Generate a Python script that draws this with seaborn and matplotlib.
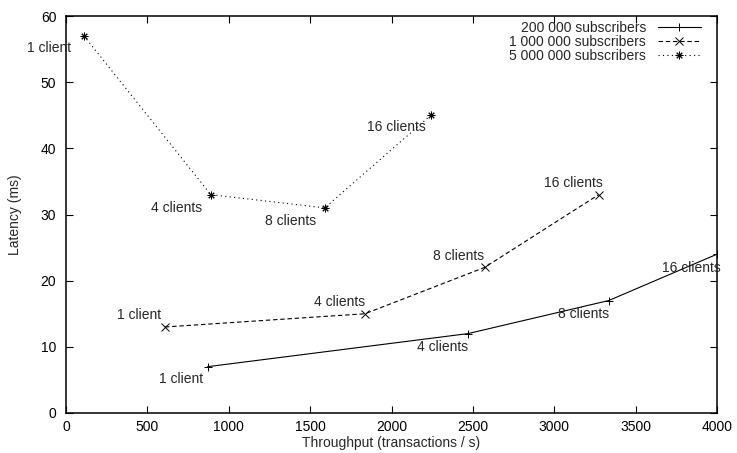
import pandas as pd
import numpy as np
import matplotlib
matplotlib.use('Agg')
import matplotlib.pyplot as plt
import seaborn as sns

# ---------- data ----------
series_names = ['200 000 subscribers', '1 000 000 subscribers', '5 000 000 subscribers']
clients = ['1 client', '4 clients', '8 clients', '16 clients']

thr_200k = [870, 2470, 3335, 4000]
lat_200k = [7, 12, 17, 24]
thr_1m = [608, 1837, 2572, 3273]
lat_1m = [13, 15, 22, 33]
thr_5m = [110, 890, 1590, 2242]
lat_5m = [57, 33, 31, 45]

x_ticks = [0, 500, 1000, 1500, 2000, 2500, 3000, 3500, 4000]
y_ticks = [0, 10, 20, 30, 40, 50, 60]

df = pd.DataFrame({
    'throughput': thr_200k + thr_1m + thr_5m,
    'latency': lat_200k + lat_1m + lat_5m,
    'series': [series_names[0]] * 4 + [series_names[1]] * 4 + [series_names[2]] * 4,
    'clients': clients * 3,
})

# label offsets (pixels: right end of text / vertical centre, relative to the point)
label_offsets = {
    series_names[0]: [(-4, -12), (0, -13), (0, -13), (4, -14)],
    series_names[1]: [(-4, 12), (0, 12), (0, 11), (4, 12)],
    series_names[2]: [(-13, -12), (-9, -13), (-9, -13), (-5, -12)],
}

sns.set_style('ticks')
plt.rcParams['font.family'] = ['Liberation Sans', 'DejaVu Sans']
plt.rcParams['font.size'] = 10

fig = plt.figure(figsize=(7.37, 4.53), dpi=100)
ax = fig.add_axes([66 / 737, 40 / 453, 651 / 737, 397 / 453])

dashes = {series_names[0]: '', series_names[1]: (4, 2.5), series_names[2]: (1, 3)}
markers = {series_names[0]: '+', series_names[1]: 'x', series_names[2]: (8, 2, 0)}
sns.lineplot(data=df, x='throughput', y='latency', hue='series', style='series',
             palette=['black'] * 3, dashes=dashes, markers=markers, sort=False,
             linewidth=0.8, markersize=5.5, markeredgewidth=0.7, markeredgecolor='black',
             ax=ax, legend=False)

for name in series_names:
    sub = df[df['series'] == name]
    for (xv, yv, txt), off in zip(sub[['throughput', 'latency', 'clients']].values, label_offsets[name]):
        ax.annotate(txt, (xv, yv), xytext=off, textcoords='offset pixels',
                    ha='right', va='center', fontsize=10)

ax.set_xlim(0, 4000)
ax.set_ylim(0, 60)
ax.set_xticks(x_ticks)
ax.set_yticks(y_ticks)
ax.tick_params(direction='in', top=True, right=True, length=5, width=0.8,
               labelsize=10, colors='black')
ax.tick_params(axis='x', pad=5)
ax.tick_params(axis='y', pad=7)
for sp in ax.spines.values():
    sp.set_linewidth(1.1)
    sp.set_color('black')
ax.set_xlabel('Throughput (transactions / s)', fontsize=10)
ax.set_ylabel('Latency (ms)', fontsize=10)
ax.xaxis.set_label_coords(0.5, -0.058)
ax.yaxis.set_label_coords(-0.067, 0.5)

# legend: text first, sample on the right (gnuplot style)
handles = []
for name in series_names:
    h, = ax.plot([], [], color='black', linewidth=0.8, marker=markers[name],
                 markersize=5.5, markeredgewidth=0.7)
    if dashes[name]:
        h.set_dashes(dashes[name])
    handles.append(h)
ax.legend(handles, series_names, loc='upper right', bbox_to_anchor=(0.9754, 0.988),
          markerfirst=False, frameon=False, borderaxespad=0, borderpad=0,
          handlelength=3.1, handletextpad=0.85, labelspacing=0.0, fontsize=10)

plt.savefig('out.png', dpi=100)
plt.close()
